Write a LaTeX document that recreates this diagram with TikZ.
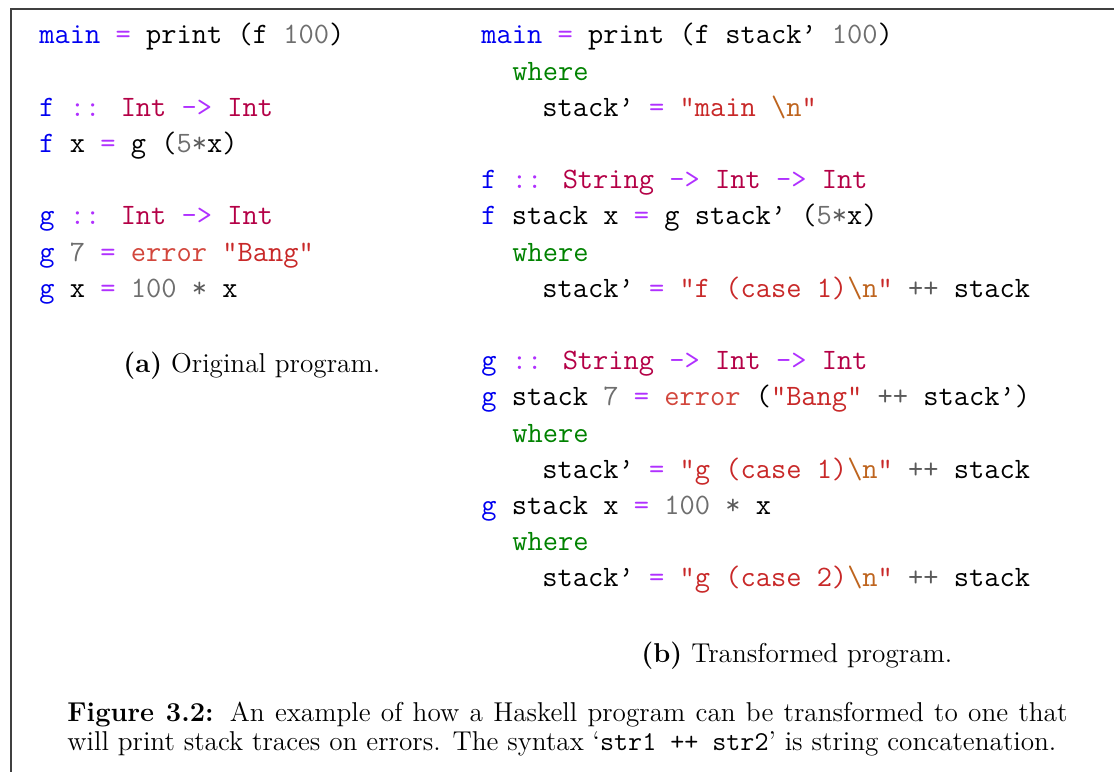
\documentclass[tikz,border=0pt]{standalone}
\definecolor{hsblue}{RGB}{0,0,240}
\definecolor{hsop}{RGB}{176,48,255}
\definecolor{hsty}{RGB}{180,0,70}
\definecolor{hsstr}{RGB}{200,40,40}
\definecolor{hserr}{RGB}{210,70,60}
\definecolor{hsnum}{RGB}{110,110,110}
\definecolor{hsesc}{RGB}{190,100,30}
\definecolor{hswh}{RGB}{0,130,0}
\definecolor{hspp}{RGB}{90,90,90}
\definecolor{framegray}{RGB}{64,64,64}
\newcommand\hF[1]{\textcolor{hsblue}{#1}}
\newcommand\hO[1]{\textcolor{hsop}{#1}}
\newcommand\hT[1]{\textcolor{hsty}{#1}}
\newcommand\hS[1]{\textcolor{hsstr}{#1}}
\newcommand\hE[1]{\textcolor{hserr}{#1}}
\newcommand\hN[1]{\textcolor{hsnum}{#1}}
\newcommand\hX{\textcolor{hsesc}{\textbackslash n}}
\newcommand\hW{\textcolor{hswh}{where}}
\newcommand\hP[1]{\textcolor{hspp}{#1}}
\begin{document}
\begin{tikzpicture}[x=0.4184pt,y=-0.4184pt,
  code/.style={anchor=base west,inner sep=0,font=\fontsize{12.38}{14}\ttfamily},
  rm/.style={anchor=base west,inner sep=0,font=\fontsize{11.4}{13}\selectfont},
  frameline/.style={draw=framegray,line width=0.8pt}]
\useasboundingbox (0,0) rectangle (1114,772);
\coordinate (fa) at (11,775);
\coordinate (fb) at (11,9);
\coordinate (fc) at (1117,9);
\draw[frameline] (fa) -- (fb) -- (fc);
% left column
\node[code] (l0) at (39,44) {\hF{main} \hO{=} print (f \hN{100})};
\node[code] (l2) at (39,116.4) {\hF{f} \hO{::} \hT{Int} \hO{->} \hT{Int}};
\node[code] (l3) at (39,152.6) {\hF{f} x \hO{=} g (\hN{5}\hP{*}x)};
\node[code] (l5) at (39,225) {\hF{g} \hO{::} \hT{Int} \hO{->} \hT{Int}};
\node[code] (l6) at (39,261.2) {\hF{g} \hN{7} \hO{=} \hE{error} \hS{"Bang"}};
\node[code] (l7) at (39,297.4) {\hF{g} x \hO{=} \hN{100} \hP{*} x};
\node[rm] (capa) at (123,373) {\textbf{(a)} Original program.};
% right column
\node[code] (r0) at (481,44) {\hF{main} \hO{=} print (f stack’ \hN{100})};
\node[code] (r1) at (512,80.2) {\hW};
\node[code] (r2) at (542,116.4) {stack’ \hO{=} \hS{"main }\hX\hS{"}};
\node[code] (r4) at (481,188.8) {\hF{f} \hO{::} \hT{String} \hO{->} \hT{Int} \hO{->} \hT{Int}};
\node[code] (r5) at (481,225) {\hF{f} stack x \hO{=} g stack’ (\hN{5}\hP{*}x)};
\node[code] (r6) at (512,261.2) {\hW};
\node[code] (r7) at (542,297.4) {stack’ \hO{=} \hS{"f (case 1)}\hX\hS{"} \hP{++} stack};
\node[code] (r9) at (481,369.8) {\hF{g} \hO{::} \hT{String} \hO{->} \hT{Int} \hO{->} \hT{Int}};
\node[code] (r10) at (481,406) {\hF{g} stack \hN{7} \hO{=} \hE{error} (\hS{"Bang"} \hP{++} stack’)};
\node[code] (r11) at (512,442.2) {\hW};
\node[code] (r12) at (542,478.4) {stack’ \hO{=} \hS{"g (case 1)}\hX\hS{"} \hP{++} stack};
\node[code] (r13) at (481,514.6) {\hF{g} stack x \hO{=} \hN{100} \hP{*} x};
\node[code] (r14) at (512,550.8) {\hW};
\node[code] (r15) at (542,587) {stack’ \hO{=} \hS{"g (case 2)}\hX\hS{"} \hP{++} stack};
\node[rm] (capb) at (641,663) {\textbf{(b)} Transformed program.};
% caption
\node[rm] (cap1) at (67,722) {\hbox to 418.4pt{\textbf{Figure 3.2:}\hskip 0.5em plus 0.3em minus 0.1em An example of how a Haskell program can be transformed to one that}};
\node[rm] (cap2) at (67,750) {will print stack traces on errors. The syntax ‘\texttt{str1 ++ str2}’ is string concatenation.};
\end{tikzpicture}
\end{document}
